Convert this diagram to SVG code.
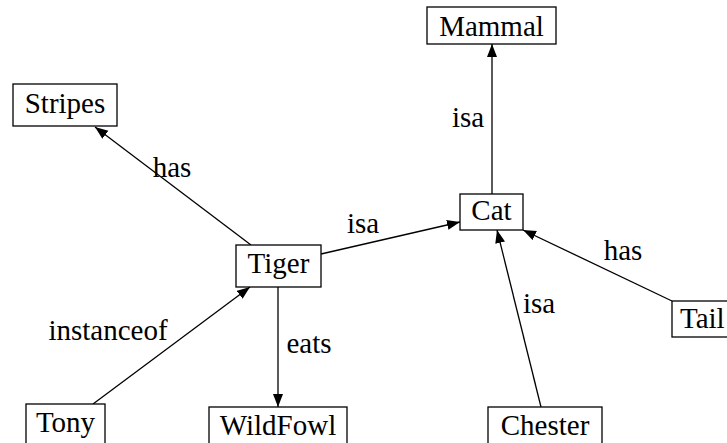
<svg xmlns="http://www.w3.org/2000/svg" width="727" height="443" viewBox="0 0 727 443">
<style>
  .node rect { fill: #ffffff; stroke: #000000; stroke-width: 1.3; }
  text { font-family: 'Liberation Serif', 'DejaVu Serif', 'Noto Serif', 'Nimbus Roman', 'Nimbus Roman No9 L', FreeSerif, Tinos, 'Latin Modern Roman', serif; font-size: 29px; fill: #000000; text-anchor: middle; }
  .edge { stroke: #000000; stroke-width: 1.3; fill: none; marker-end: url(#arrow); }
</style>
<defs>
  <marker id="arrow" markerUnits="userSpaceOnUse" markerWidth="14" markerHeight="12" refX="13" refY="5" orient="auto">
    <path d="M0,0 L13,5 L0,10 Z" fill="#000000"/>
  </marker>
</defs>
<rect width="727" height="443" fill="#ffffff"/>
<g id="connectors">
  <line class="edge" x1="492" y1="194" x2="492" y2="44"/>
  <line class="edge" x1="251" y1="245" x2="95" y2="127"/>
  <line class="edge" x1="321" y1="254" x2="460" y2="222"/>
  <line class="edge" x1="672" y1="301" x2="523" y2="230"/>
  <line class="edge" x1="541" y1="407" x2="497" y2="230"/>
  <line class="edge" x1="93" y1="404" x2="250" y2="287"/>
  <line class="edge" x1="278" y1="287" x2="278" y2="407"/>
  <text x="172" y="177">has</text>
  <text x="363" y="233">isa</text>
  <text x="468" y="127">isa</text>
  <text x="623" y="260">has</text>
  <text x="539" y="313">isa</text>
  <text x="108" y="340">instanceof</text>
  <text x="309" y="353">eats</text>
</g>
<g id="Mammal" class="node"><rect x="427" y="7" width="129" height="37"/><text x="491.5" y="36">Mammal</text></g>
<g id="Stripes" class="node"><rect x="13" y="84" width="104" height="42"/><text x="65" y="113">Stripes</text></g>
<g id="Tiger" class="node"><rect x="236" y="245" width="85" height="42"/><text x="278.5" y="273">Tiger</text></g>
<g id="Cat" class="node"><rect x="460" y="194" width="63" height="36"/><text x="491.5" y="220">Cat</text></g>
<g id="Tail" class="node"><rect x="672" y="301" width="70" height="36"/><text x="680" y="328" style="text-anchor:start">Tail</text></g>
<g id="Tony" class="node"><rect x="26" y="404" width="79" height="42"/><text x="65.5" y="432">Tony</text></g>
<g id="WildFowl" class="node"><rect x="209" y="407" width="138" height="42"/><text x="278" y="435">WildFowl</text></g>
<g id="Chester" class="node"><rect x="488" y="407" width="114" height="42"/><text x="545" y="435">Chester</text></g>
</svg>
